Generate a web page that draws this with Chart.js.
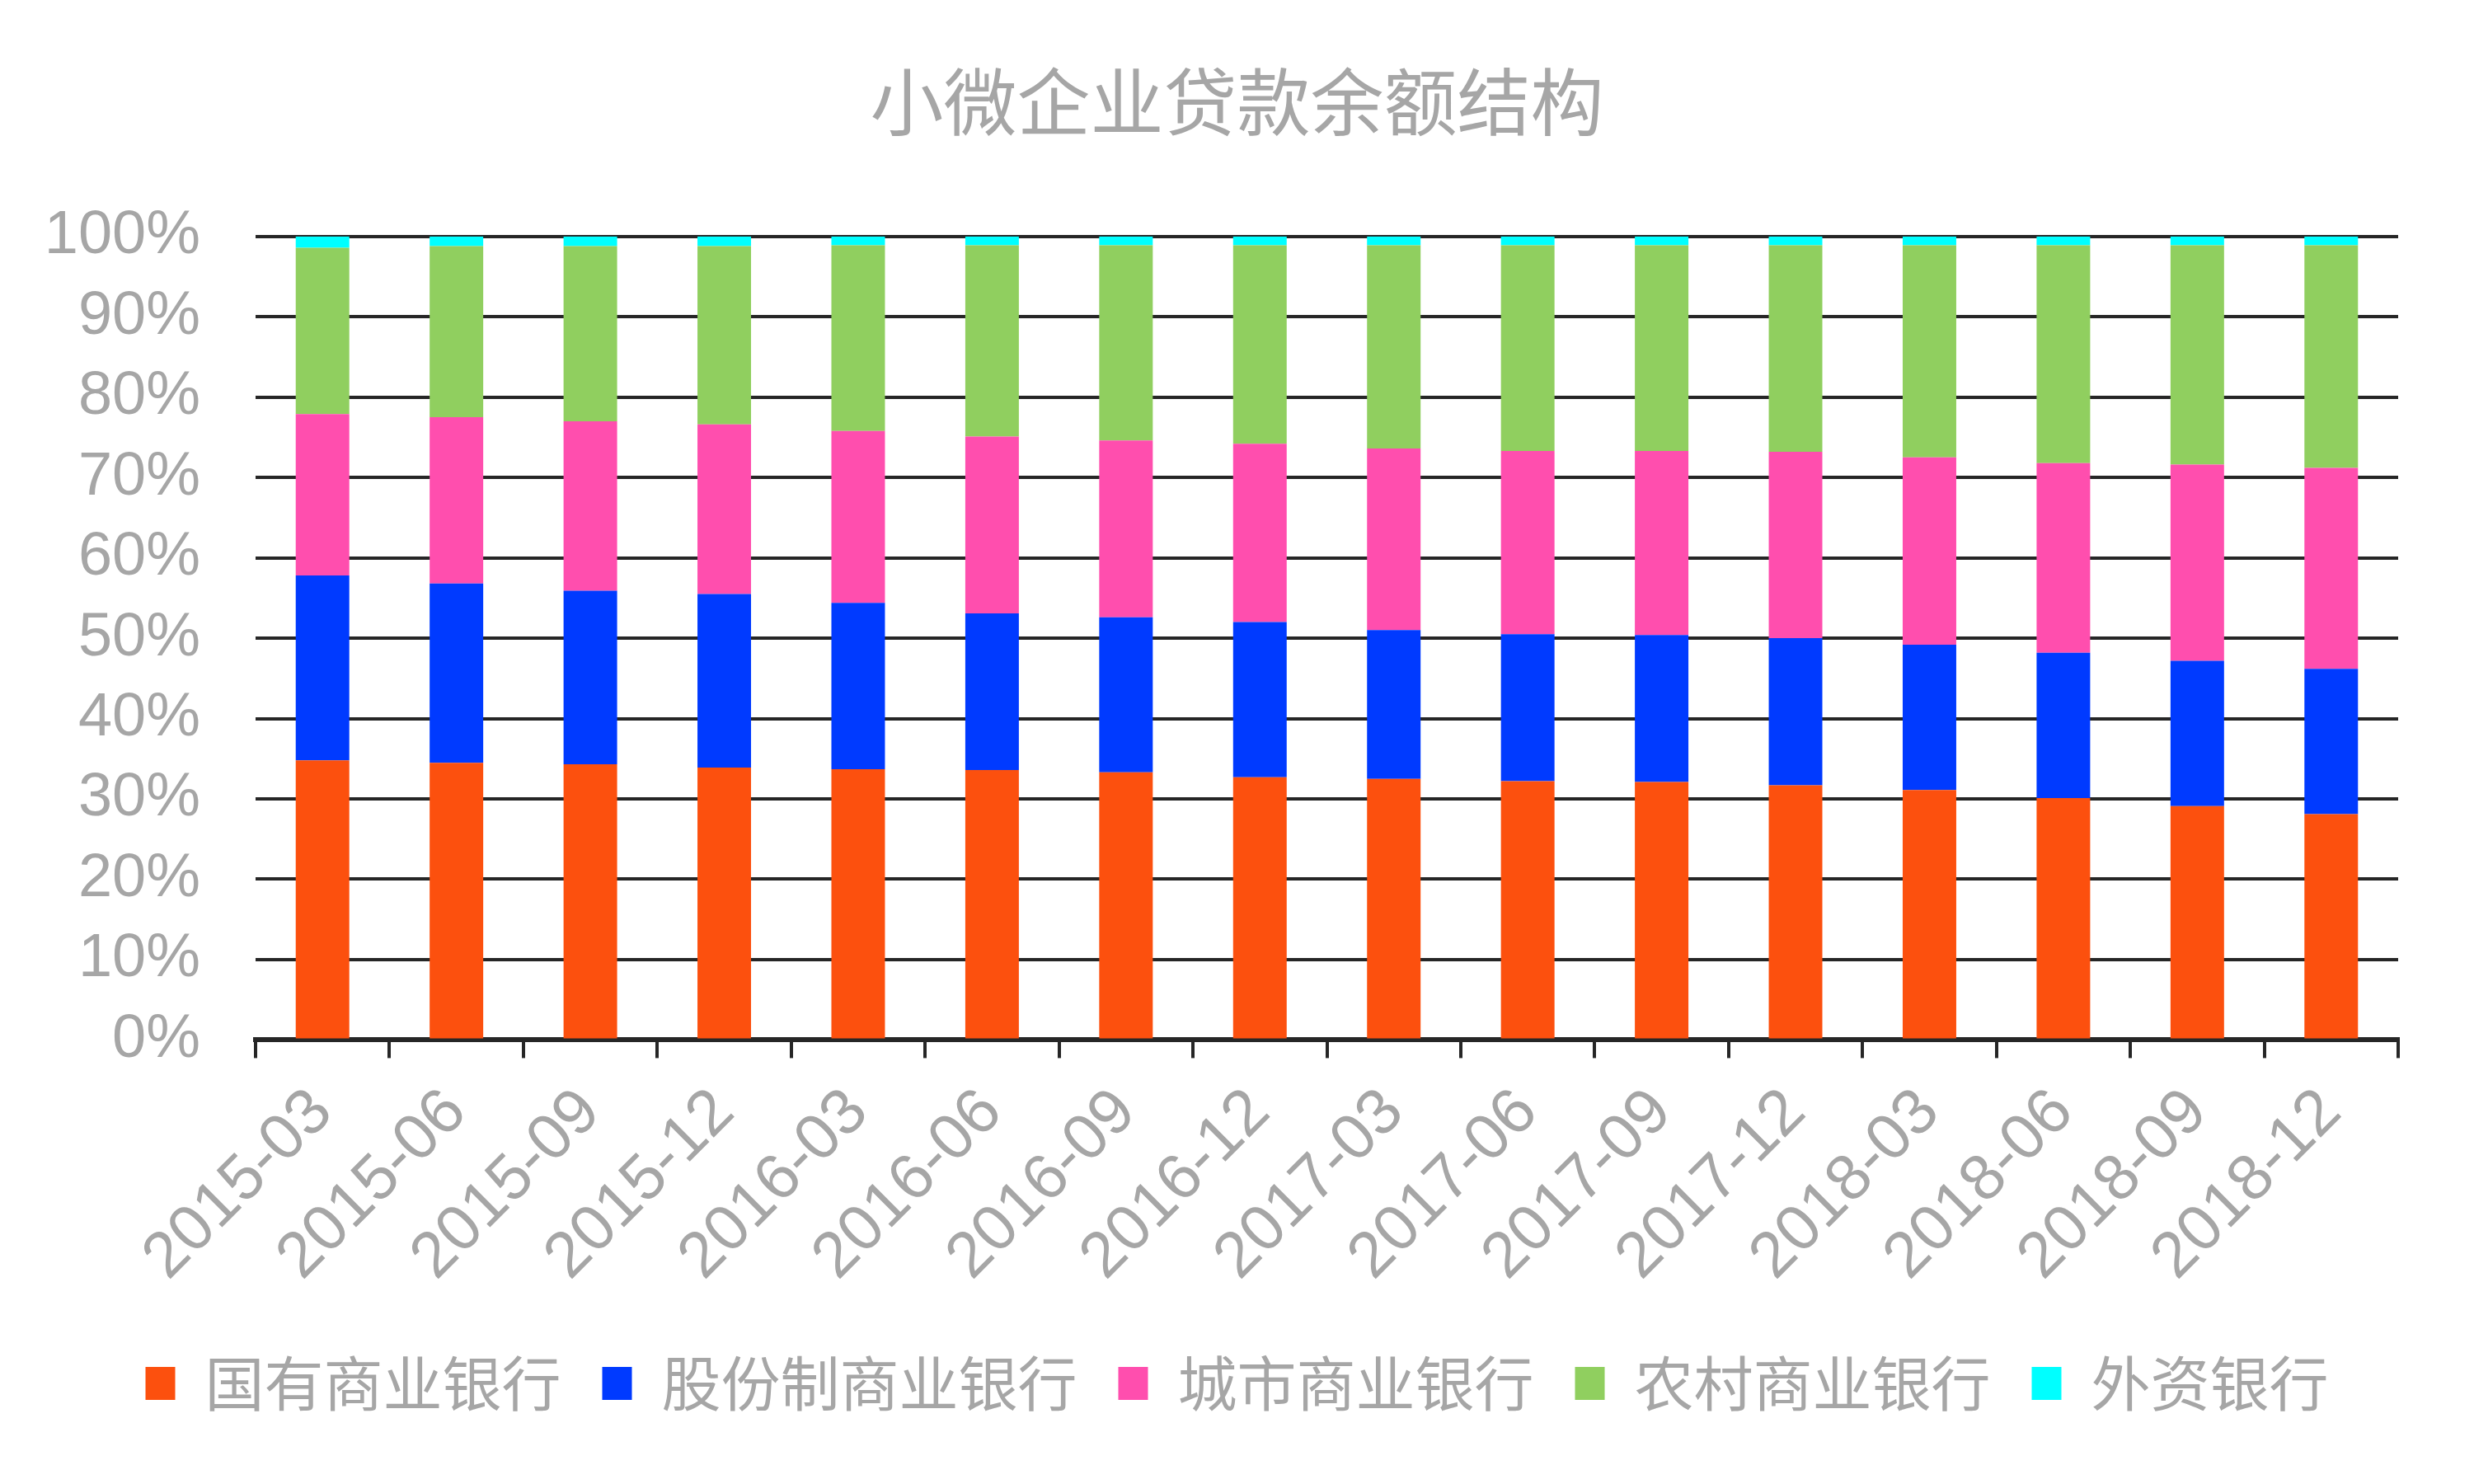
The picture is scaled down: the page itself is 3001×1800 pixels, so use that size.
<!DOCTYPE html>
<html>
<head>
<meta charset="utf-8">
<script src="https://cdn.jsdelivr.net/npm/chart.js@4.4.0/dist/chart.umd.min.js"></script>
<style>
    body { margin: 0; background: #ffffff; }
    #wrap { width: 3001px; height: 1800px; position: relative; }
</style>
</head>
<body>
<div id="wrap"><canvas id="structureChart"></canvas></div>
<script>
// Données (en %)
const quarters = ['2015-03', '2015-06', '2015-09', '2015-12', '2016-03', '2016-06', '2016-09', '2016-12',
                  '2017-03', '2017-06', '2017-09', '2017-12', '2018-03', '2018-06', '2018-09', '2018-12'];
const stateOwned = [34.8, 34.5, 34.3, 33.9, 33.7, 33.6, 33.3, 32.7, 32.5, 32.2, 32.1, 31.7, 31.1, 30.1, 29.1, 28.1];
const jointStock = [23.0, 22.3, 21.6, 21.6, 20.7, 19.5, 19.3, 19.3, 18.5, 18.3, 18.3, 18.3, 18.1, 18.1, 18.1, 18.1];
const cityBanks  = [20.1, 20.7, 21.1, 21.1, 21.4, 22.0, 22.0, 22.2, 22.6, 22.8, 22.9, 23.2, 23.3, 23.6, 24.4, 25.0];
const ruralBanks = [20.7, 21.3, 21.8, 22.2, 23.1, 23.8, 24.3, 24.7, 25.3, 25.6, 25.6, 25.7, 26.4, 27.1, 27.3, 27.7];
const foreignBanks = [1.4, 1.2, 1.2, 1.2, 1.1, 1.1, 1.1, 1.1, 1.1, 1.1, 1.1, 1.1, 1.1, 1.1, 1.1, 1.1];
const yTicks = [0, 10, 20, 30, 40, 50, 60, 70, 80, 90, 100];

const GREY = '#a6a6a6';
const LINE = '#262626';
const CJK = '"Noto Sans CJK SC", "Noto Sans", sans-serif';
const LATIN = '"Liberation Sans", Arial, sans-serif';

function makeSet(label, data, color) {
    return {
        label: label,
        data: data,
        backgroundColor: color,
        borderWidth: 0,
        barPercentage: 0.4,
        categoryPercentage: 1.0
    };
}

const ctx = document.getElementById('structureChart').getContext('2d');
new Chart(ctx, {
    type: 'bar',
    data: {
        labels: quarters,
        datasets: [
            makeSet('国有商业银行', stateOwned, '#fc500e'),
            makeSet('股份制商业银行', jointStock, '#003aff'),
            makeSet('城市商业银行', cityBanks, '#ff4eae'),
            makeSet('农村商业银行', ruralBanks, '#90cf5f'),
            makeSet('外资银行', foreignBanks, '#00ffff')
        ]
    },
    options: {
        responsive: true,
        maintainAspectRatio: false,
        animation: false,
        layout: {
            padding: { left: 55, right: 55, top: 0, bottom: 76 }
        },
        plugins: {
            title: {
                display: true,
                text: '小微企业贷款余额结构',
                color: GREY,
                font: { family: CJK, size: 89, weight: 'normal' },
                padding: { top: 70, bottom: 110 }
            },
            legend: {
                display: true,
                position: 'bottom',
                labels: {
                    color: GREY,
                    font: { family: CJK, size: 72 },
                    boxWidth: 36,
                    boxHeight: 40,
                    padding: 50
                }
            },
            tooltip: { enabled: false }
        },
        scales: {
            x: {
                stacked: true,
                grid: {
                    offset: true,
                    drawOnChartArea: false,
                    drawTicks: true,
                    tickLength: 22,
                    color: LINE,
                    lineWidth: 4
                },
                border: { display: true, color: LINE, width: 6 },
                ticks: {
                    color: GREY,
                    font: { family: LATIN, size: 78 },
                    minRotation: 45,
                    maxRotation: 45,
                    padding: 20
                }
            },
            y: {
                stacked: true,
                min: 0,
                max: 100,
                afterBuildTicks: axis => {
                    axis.ticks = yTicks.map(v => ({ value: v }));
                },
                afterFit: axis => { axis.width = 255; },
                grid: {
                    drawTicks: false,
                    color: LINE,
                    lineWidth: 4
                },
                border: { display: false },
                ticks: {
                    color: GREY,
                    font: { family: LATIN, size: 74 },
                    padding: 67,
                    callback: value => value + '%'
                }
            },
            // axe vide à droite, juste pour réserver la marge
            yRight: {
                position: 'right',
                display: true,
                afterFit: axis => { axis.width = 37; },
                grid: { display: false },
                border: { display: false },
                ticks: { display: false }
            }
        }
    }
});
</script>
</body>
</html>
